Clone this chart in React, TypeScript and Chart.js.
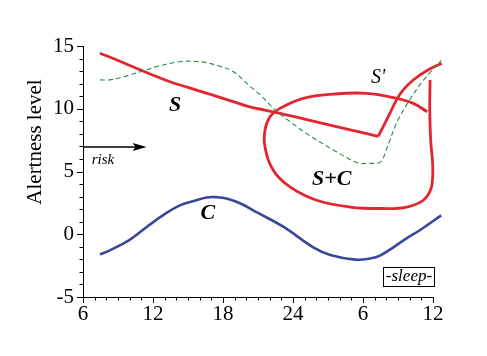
import { useEffect, useRef } from "react";
import { Chart, registerables } from "chart.js";
Chart.register(...registerables);

// Homeostatic process S (descending during wake, corner at sleep onset)
const sWakeX = [7.46, 9, 10.9, 13.46, 15, 17, 19, 20.3, 22.6, 25, 27, 29, 31.3];
const sWakeY = [14.42, 13.85, 13.1, 12.15, 11.7, 11.12, 10.53, 10.15, 9.7, 9.18, 8.74, 8.3, 7.8];
// S' (recovery after sleep onset)
const sRecX = [31.3, 32.1, 32.9, 33.45, 34.31, 35.46, 36.74];
const sRecY = [7.8, 9.25, 10.75, 11.5, 12.29, 13.03, 13.62];
// Green dashed reference curve
const gX = [7.46, 8.3, 9.5, 10.9, 12.5, 14.3, 16, 17.5, 18.9, 20.3, 21.2, 22.6, 24, 25.2, 27.5, 29.5, 30.5, 31.5, 32.0, 32.9, 34.0, 35.2, 36.7];
const gY = [12.3, 12.3, 12.55, 12.95, 13.4, 13.75, 13.75, 13.45, 12.95, 11.8, 11.1, 9.8, 8.8, 8.0, 6.7, 5.7, 5.65, 5.77, 6.75, 8.9, 10.7, 12.3, 13.85];
// Circadian process C
const cX = [7.46, 8.3, 10, 11.46, 13, 14.3, 15.5, 16.6, 17.5, 18.3, 19.5, 21, 23.2, 25.7, 27.2, 29.3, 30.5, 31.5, 33.7, 35, 36.7];
const cY = [-1.6, -1.28, -0.45, 0.58, 1.6, 2.3, 2.65, 2.93, 2.95, 2.85, 2.45, 1.7, 0.58, -1.02, -1.65, -2.02, -1.95, -1.68, -0.35, 0.4, 1.5];
// S+C loop curve (in drawing order)
const scX = [35.75, 35.72, 35.8, 35.98, 35.88, 35.17, 33.75, 31.74, 28.89, 26.03, 23.74, 22.31, 21.6, 21.6, 22.03, 22.89, 24.88, 27.45, 30.32, 32.89, 34.31, 35.5];
const scY = [12.29, 9.89, 7.5, 5.37, 3.77, 2.71, 2.17, 2.05, 2.17, 2.71, 3.77, 5.1, 6.96, 8.3, 9.36, 10.03, 10.83, 11.17, 11.23, 10.83, 10.43, 9.76];

const xTickValues = [6, 12, 18, 24, 30, 36];
const xTickLabels = ["6", "12", "18", "24", "6", "12"];
const yTickValues = [-5, 0, 5, 10, 15];

const RED = "#e1262f";
const BLUE = "#3a4799";
const GREEN = "#2f8a4a";
const SERIF = "'Liberation Serif', 'DejaVu Serif', serif";

const pts = (xs: number[], ys: number[]) => xs.map((x, i) => ({ x, y: ys[i] }));

const decorPlugin = {
  id: "decor",
  afterDraw(chart: any) {
    const ctx = chart.ctx as CanvasRenderingContext2D;
    const xs = chart.scales.x;
    const ys = chart.scales.y;
    const { left, bottom } = chart.chartArea;
    ctx.save();
    ctx.strokeStyle = "#000";
    ctx.lineWidth = 1;
    // minor / major ticks
    for (let v = 6; v <= 36; v++) {
      const px = Math.round(xs.getPixelForValue(v)) + 0.5;
      const len = v % 6 === 0 ? 6 : 3.5;
      ctx.beginPath();
      ctx.moveTo(px, bottom);
      ctx.lineTo(px, bottom + len);
      ctx.stroke();
    }
    for (let v = -5; v <= 15; v++) {
      const py = Math.round(ys.getPixelForValue(v)) + 0.5;
      const len = v % 5 === 0 ? 6 : 3.5;
      ctx.beginPath();
      ctx.moveTo(left - len, py);
      ctx.lineTo(left, py);
      ctx.stroke();
    }
    // y axis title
    ctx.fillStyle = "#000";
    ctx.font = `21px ${SERIF}`;
    ctx.textAlign = "center";
    ctx.textBaseline = "middle";
    ctx.save();
    ctx.translate(35, ys.getPixelForValue(7.35));
    ctx.rotate(-Math.PI / 2);
    ctx.fillText("Alertness level", 0, 0);
    ctx.restore();

    // curve labels
    ctx.font = `bold italic 22px ${SERIF}`;
    ctx.fillText("S", xs.getPixelForValue(13.89), ys.getPixelForValue(10.29));
    ctx.fillText("S+C", xs.getPixelForValue(27.32), ys.getPixelForValue(4.39));
    ctx.fillText("C", xs.getPixelForValue(16.71), ys.getPixelForValue(1.67));
    ctx.font = `italic 20px ${SERIF}`;
    ctx.fillText("S'", xs.getPixelForValue(31.29), ys.getPixelForValue(12.45));

    // risk arrow
    const ay = ys.getPixelForValue(6.96);
    const ax0 = xs.getPixelForValue(6);
    const ax1 = xs.getPixelForValue(11.45);
    ctx.lineWidth = 1.5;
    ctx.beginPath();
    ctx.moveTo(ax0, ay);
    ctx.lineTo(ax1 - 8, ay);
    ctx.stroke();
    ctx.beginPath();
    ctx.moveTo(ax1, ay);
    ctx.lineTo(ax1 - 14, ay - 4);
    ctx.lineTo(ax1 - 11, ay);
    ctx.lineTo(ax1 - 14, ay + 4);
    ctx.closePath();
    ctx.fill();
    ctx.font = `italic 15px ${SERIF}`;
    ctx.textAlign = "left";
    ctx.fillText("risk", xs.getPixelForValue(6.75), ys.getPixelForValue(5.9));

    // sleep box
    const bx = xs.getPixelForValue(33.94);
    const by = ys.getPixelForValue(-3.36);
    ctx.lineWidth = 1;
    ctx.strokeRect(Math.round(bx - 25.5) + 0.5, Math.round(by - 9.5) + 0.5, 51, 19);
    ctx.font = `italic 17px ${SERIF}`;
    ctx.textAlign = "center";
    ctx.fillText("-sleep-", bx, by);
    ctx.restore();
  },
};

export default function App() {
  const ref = useRef<HTMLCanvasElement | null>(null);
  useEffect(() => {
    if (!ref.current) return;
    const line = (data: any, color: string, width: number, tension: number, dash: number[] = []) => ({
      data,
      borderColor: color,
      backgroundColor: color,
      borderWidth: width,
      borderDash: dash,
      pointRadius: 0,
      tension,
      fill: false,
      clip: false as any,
      showLine: true,
    });
    const chart = new Chart(ref.current, {
      type: "scatter",
      data: {
        datasets: [
          line(pts(gX, gY), GREEN, 1.1, 0.35, [5, 3]),
          line(pts(cX, cY), BLUE, 2.6, 0.4),
          line(pts(scX, scY), RED, 2.8, 0.4),
          line(pts(sWakeX, sWakeY), RED, 2.8, 0.3),
          line(pts(sRecX, sRecY), RED, 2.8, 0.3),
        ],
      },
      options: {
        animation: false,
        responsive: true,
        maintainAspectRatio: false,
        layout: { padding: { left: 0, top: 46, right: 54, bottom: 0 } },
        plugins: { legend: { display: false }, tooltip: { enabled: false }, title: { display: false } },
        events: [],
        scales: {
          x: {
            type: "linear",
            min: 6,
            max: 36,
            afterFit: (s: any) => {
              s.height = 59;
            },
            afterBuildTicks: (s: any) => {
              s.ticks = xTickValues.map((v) => ({ value: v }));
            },
            grid: { display: false, drawTicks: false },
            border: { display: true, color: "#000", width: 1 },
            ticks: {
              color: "#000",
              padding: 5,
              maxRotation: 0,
              autoSkip: false,
              font: { family: SERIF, size: 21 },
              callback: (v: any) => xTickLabels[xTickValues.indexOf(Number(v))] ?? "",
            },
          },
          y: {
            type: "linear",
            min: -5,
            max: 15,
            afterFit: (s: any) => {
              s.width = 83;
            },
            afterBuildTicks: (s: any) => {
              s.ticks = yTickValues.map((v) => ({ value: v }));
            },
            grid: { display: false, drawTicks: false },
            border: { display: true, color: "#000", width: 1 },
            ticks: {
              color: "#000",
              padding: 9,
              autoSkip: false,
              font: { family: SERIF, size: 21 },
            },
          },
        },
      },
      plugins: [decorPlugin],
    });
    return () => chart.destroy();
  }, []);
  return (
    <div style={{ position: "absolute", left: 0, top: 0, width: 487, height: 356, background: "#fff" }}>
      <canvas ref={ref} />
    </div>
  );
}
